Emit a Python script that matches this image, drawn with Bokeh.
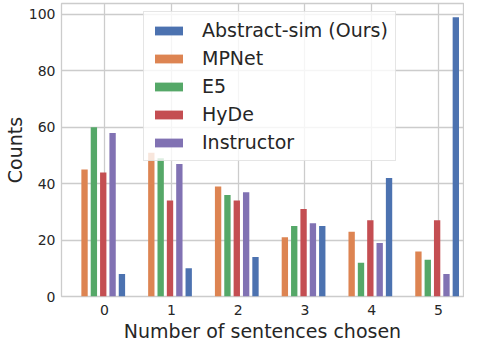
from bokeh.plotting import figure
from bokeh.models import Legend, LegendItem, FixedTicker, Range1d
from bokeh.embed import file_html
from bokeh.resources import INLINE

# ---- data ----
sentences = [0, 1, 2, 3, 4, 5]
methods = ["Abstract-sim (Ours)", "MPNet", "E5", "HyDe", "Instructor"]
abstract_sim = [8, 10, 14, 25, 42, 99]
mpnet = [45, 51, 39, 21, 23, 16]
e5 = [60, 49, 36, 25, 12, 13]
hyde = [44, 34, 34, 31, 27, 27]
instructor = [58, 47, 37, 26, 19, 8]
y_ticks = [0, 20, 40, 60, 80, 100]

series = [abstract_sim, mpnet, e5, hyde, instructor]
colors = ["#4C72B0", "#DD8452", "#55A868", "#C44E52", "#8172B3"]
offsets = [0.26, -0.30, -0.16, -0.02, 0.12]

FONT = "DejaVu Sans"
TXT = "#262626"
GRID = "#cccccc"
Y_MAX = 103.9

p = figure(width=464, height=344, output_backend="svg", toolbar_location=None,
           x_range=Range1d(-0.645, 5.375), y_range=Range1d(0, Y_MAX),
           min_border_left=59, min_border_right=1, min_border_top=3, min_border_bottom=40)
p.background_fill_color = "white"
p.border_fill_color = "white"
p.outline_line_color = GRID
p.outline_line_width = 1.3

for ax in (p.xaxis[0], p.yaxis[0]):
    ax.axis_line_color = None
    ax.major_tick_line_color = None
    ax.minor_tick_line_color = None
    ax.major_tick_out = 0
    ax.major_tick_in = 0
    ax.minor_tick_out = 0
    ax.minor_tick_in = 0
    ax.major_label_text_font = FONT
    ax.major_label_text_font_size = "14px"
    ax.major_label_text_color = TXT
    ax.axis_label_text_font = FONT
    ax.axis_label_text_font_size = "19px"
    ax.axis_label_text_font_style = "normal"
    ax.axis_label_text_color = TXT

p.xaxis.ticker = FixedTicker(ticks=sentences)
p.yaxis.ticker = FixedTicker(ticks=y_ticks)
p.xaxis.axis_label = "Number of sentences chosen"
p.yaxis.axis_label = "Counts"
p.xaxis.major_label_standoff = 8
p.yaxis.major_label_standoff = 6
p.xaxis.axis_label_standoff = 2
p.yaxis.axis_label_standoff = 0

p.xgrid.grid_line_color = GRID
p.ygrid.grid_line_color = GRID
p.xgrid.grid_line_width = 1.3
p.ygrid.grid_line_width = 1.3

renderers = []
for vals, col, off in zip(series, colors, offsets):
    xs = [s + off for s in sentences]
    r = p.vbar(x=xs, top=vals, width=0.095, fill_color=col, line_color=None)
    renderers.append(r)

legend = Legend(items=[LegendItem(label=m, renderers=[r]) for m, r in zip(methods, renderers)],
                location=(82, 135))
legend.label_text_font = FONT
legend.label_text_font_size = "19px"
legend.label_text_color = TXT
legend.glyph_width = 35
legend.glyph_height = 11
legend.label_standoff = 16
legend.label_height = 21
legend.spacing = 6
legend.padding = 7
legend.border_line_color = GRID
legend.border_line_width = 1.2
legend.background_fill_color = "white"
legend.background_fill_alpha = 0.8
p.add_layout(legend)

open("out.html", "w").write(file_html(p, INLINE))
